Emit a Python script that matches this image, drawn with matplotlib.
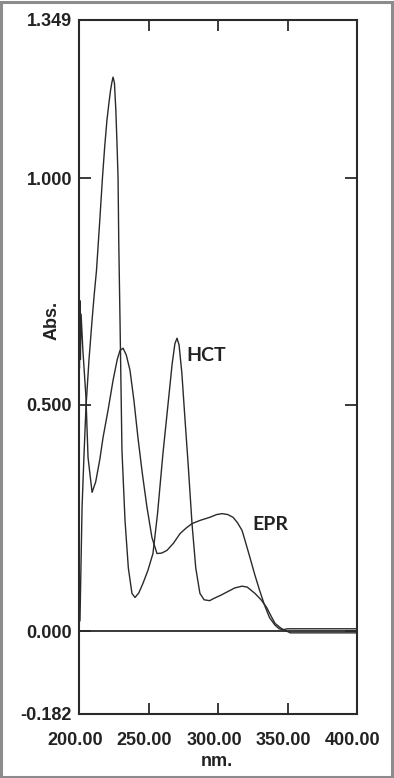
import matplotlib
matplotlib.use('Agg')
import matplotlib.pyplot as plt
import matplotlib.transforms as mtransforms
from matplotlib.patches import Rectangle

# Dữ liệu phổ hấp thụ
hct_nm = [200.0, 200.7, 202.2, 203.6, 205.0, 207.2, 209.4, 211.0, 212.6, 214.8,
          216.9, 218.5, 220.1, 221.5, 222.7, 223.7, 224.5, 225.5, 226.5, 227.3,
          228.1, 228.6, 229.5, 230.9, 233.1, 235.5, 238.1, 240.3, 243.0, 246.0,
          249.6, 253.2, 256.5, 260.4, 264.0, 267.0, 269.0, 270.5, 272.0, 274.0,
          276.3, 278.5, 281.3, 284.0, 287.0, 290.0, 294.0, 297.0, 302.0, 307.0,
          312.0, 317.3, 321.0, 326.6, 331.0, 335.0, 338.0, 341.0, 345.0, 348.0,
          350.0, 352.0, 400.0]
hct_abs = [0.02, 0.024, 0.274, 0.39, 0.494, 0.60, 0.687, 0.745, 0.797, 0.90,
           1.002, 1.07, 1.128, 1.165, 1.194, 1.212, 1.223, 1.21, 1.15, 1.08,
           1.00, 0.86, 0.687, 0.40, 0.245, 0.14, 0.084, 0.075, 0.085, 0.106,
           0.135, 0.172, 0.26, 0.393, 0.50, 0.59, 0.635, 0.647, 0.632, 0.57,
           0.466, 0.37, 0.238, 0.14, 0.084, 0.07, 0.068, 0.073, 0.08, 0.088,
           0.096, 0.10, 0.098, 0.084, 0.07, 0.053, 0.035, 0.018, 0.008, 0.002,
           0.0, -0.003, -0.003]

epr_nm = [200.0, 200.3, 200.6, 201.0, 201.5, 202.8, 205.0, 206.5, 209.4, 212.0,
          215.0, 217.3, 221.0, 224.5, 227.5, 229.5, 231.7, 234.0, 236.7, 239.5,
          242.4, 245.5, 248.9, 252.5, 256.1, 259.5, 263.3, 268.0, 272.7, 277.0,
          281.3, 287.0, 294.2, 299.0, 303.0, 307.0, 310.8, 314.0, 317.3, 320.0,
          323.0, 326.5, 330.0, 333.5, 337.0, 341.0, 344.0, 346.8, 350.0, 400.0]
epr_abs = [0.74, 0.58, 0.73, 0.60, 0.70, 0.62, 0.517, 0.384, 0.307, 0.33,
           0.38, 0.428, 0.49, 0.554, 0.60, 0.62, 0.625, 0.61, 0.576, 0.51,
           0.428, 0.35, 0.274, 0.207, 0.172, 0.173, 0.179, 0.195, 0.216, 0.228,
           0.238, 0.245, 0.252, 0.258, 0.26, 0.258, 0.252, 0.24, 0.223, 0.195,
           0.163, 0.125, 0.09, 0.058, 0.031, 0.014, 0.006, 0.004, 0.006, 0.006]

x_ticks = [200, 250, 300, 350, 400]
x_labels = ['200.00', '250.00', '300.00', '350.00', '400.00']
y_ticks = [-0.182, 0.0, 0.5, 1.0, 1.349]
y_labels = ['-0.182', '0.000', '0.500', '1.000', '1.349']

plt.rcParams['font.family'] = ['Liberation Sans', 'DejaVu Sans']

fig = plt.figure(figsize=(3.94, 7.78), dpi=100)
ax = fig.add_axes([79 / 394, 1 - 714 / 778, 278 / 394, 694 / 778])

ink = '#2a2a2a'
ax.plot(hct_nm, hct_abs, color=ink, lw=1.0)
ax.plot(epr_nm, epr_abs, color=ink, lw=1.0)
ax.axhline(0, color=ink, lw=1.3)

ax.set_xlim(200, 400)
ax.set_ylim(-0.182, 1.349)

ax.set_xticks(x_ticks)
ax.set_xticklabels(x_labels, fontsize=13, fontweight='bold', color='#222222')
ax.set_yticks(y_ticks)
ax.set_yticklabels(y_labels, fontsize=13, fontweight='bold', color='#222222')
ax.tick_params(axis='x', direction='in', length=8, width=1.3, color=ink,
               top=True, pad=13)
ax.tick_params(axis='y', direction='in', length=8.5, width=1.3, color=ink,
               right=True, pad=5)

# nhãn trục x lệch sang trái một chút
shift = mtransforms.ScaledTranslation(-4 / 100, 0, fig.dpi_scale_trans)
for lab in ax.get_xticklabels():
    lab.set_transform(lab.get_transform() + shift)

for s in ax.spines.values():
    s.set_color(ink)
    s.set_linewidth(1.5)

fig.text(52 / 394, 1 - 320 / 778, 'Abs.', rotation=90, ha='center', va='center',
         fontsize=13, fontweight='bold', color='#222222')
fig.text(217 / 394, 1 - 762 / 778, 'nm.', ha='center', va='center',
         fontsize=13, fontweight='bold', color='#222222')

ax.text(277, 0.609, 'HCT', fontsize=14, fontweight='bold', color='#222222',
        family=['Lato', 'DejaVu Sans'], va='center', ha='left')
ax.text(324.5, 0.236, 'EPR', fontsize=14, fontweight='bold', color='#222222',
        family=['Lato', 'DejaVu Sans'], va='center', ha='left')

# khung viền xám quanh hình
fig.patches.append(Rectangle((0.002, 0.001), 0.994, 0.997, transform=fig.transFigure,
                             fill=False, edgecolor='#8c8c8c', lw=2.2))

fig.savefig('out.png', dpi=100, facecolor='white')
